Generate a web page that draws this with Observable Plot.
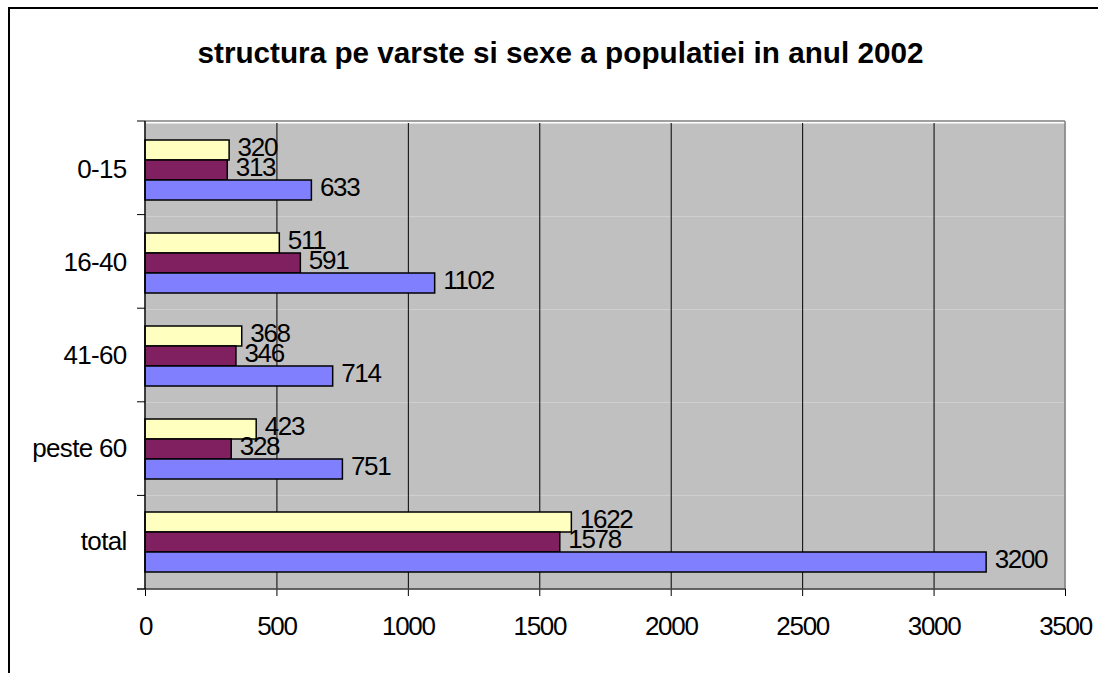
<!DOCTYPE html>
<html>
<head>
<meta charset="utf-8">
<script src="https://cdn.jsdelivr.net/npm/d3@7"></script>
<script src="https://cdn.jsdelivr.net/npm/@observablehq/plot@0.6"></script>
<style>
  html, body { margin: 0; padding: 0; background: #fff; overflow: hidden; }
  body { width: 1098px; height: 673px; position: relative; font-family: "Liberation Sans", Arial, sans-serif; }
  #border { position: absolute; left: 8px; top: 7px; width: 1200px; height: 800px; border: 2px solid #000; box-sizing: border-box; }
  #title { position: absolute; left: 0; top: 38px; width: 1121px; text-align: center; font-weight: bold; font-size: 29.7px; line-height: 30px; color: #000; white-space: nowrap; }
  #chart { position: absolute; left: 0; top: 0; }
</style>
</head>
<body>
<div id="border"></div>
<div id="title">structura pe varste si sexe a populatiei in anul 2002</div>
<div id="chart"></div>
<script>
// ---- data ----
const categories = ["0-15", "16-40", "41-60", "peste 60", "total"];
const seriesNames = ["femei", "barbati", "total"];
const femei   = [320, 511, 368, 423, 1622];
const barbati = [313, 591, 346, 328, 1578];
const total   = [633, 1102, 714, 751, 3200];
const xTicks  = [0, 500, 1000, 1500, 2000, 2500, 3000, 3500];
const seriesColors = ["#FFFFC0", "#802060", "#8080FF"];

const seriesValues = [femei, barbati, total];
const rows = [];
categories.forEach((c, i) => {
  seriesNames.forEach((s, j) => rows.push({category: c, series: s, value: seriesValues[j][i]}));
});

const chart = Plot.plot({
  width: 1098,
  height: 673,
  marginLeft: 145,
  marginRight: 33,
  marginTop: 121,
  marginBottom: 84,
  style: {fontFamily: "'Liberation Sans', Arial, sans-serif", fontSize: "26px", letterSpacing: "-1.3px", color: "#000", background: "transparent", overflow: "visible"},
  x: {domain: [0, 3500], ticks: xTicks, tickFormat: d => String(d), tickSize: 8, tickPadding: 20, label: null},
  fy: {domain: categories, padding: 0, axis: "left", tickSize: 0, tickPadding: 19, label: null},
  y: {domain: seriesNames, paddingInner: 0, paddingOuter: 0.75, axis: null},
  color: {domain: seriesNames, range: seriesColors},
  marks: [
    Plot.frame({fill: "#C0C0C0", stroke: null}),
    Plot.ruleX(xTicks.filter(t => t > 0 && t < 3500), {stroke: "#000", strokeWidth: 1}),
    Plot.barX(rows, {x: "value", y: "series", fy: "category", fill: "series", stroke: "#000", strokeWidth: 1.5}),
    Plot.text(rows, {x: "value", y: "series", fy: "category", text: d => String(d.value), textAnchor: "start", dx: 8, dy: -3, fill: "#000", fontSize: 26})
  ]
});
document.getElementById("chart").appendChild(chart);

// category labels slightly less condensed than the numbers
d3.select(chart).selectAll("g[aria-label='fy-axis tick label'] text, g[aria-label='fy-axis'] text").style("letter-spacing", "-0.7px");

// chart furniture (axis lines, category boundary ticks, plot-area border) from the scales
const xs = chart.scale("x");
const fys = chart.scale("fy");
const [xa, xb] = xs.range;
const ya = fys.range[0], yb = fys.range[1];
const n = fys.domain.length;
const svg = d3.select(chart);
const g = svg.append("g").attr("fill", "none");
d3.range(n + 1).forEach(i => {
  const y = ya + i * (yb - ya) / n;
  g.append("line").attr("x1", xa - 8).attr("x2", xa).attr("y1", y).attr("y2", y).attr("stroke", "#000");
});
g.append("line").attr("x1", xb).attr("x2", xb).attr("y1", ya).attr("y2", yb).attr("stroke", "#808080").attr("stroke-width", 1.5);
g.append("line").attr("x1", xa).attr("x2", xb).attr("y1", ya).attr("y2", ya).attr("stroke", "#808080").attr("stroke-width", 1.5);
g.append("line").attr("x1", xa - 8).attr("x2", xb).attr("y1", yb).attr("y2", yb).attr("stroke", "#333").attr("stroke-width", 1.5);
g.append("line").attr("x1", xa).attr("x2", xa).attr("y1", ya).attr("y2", yb).attr("stroke", "#000").attr("stroke-width", 1.5);
</script>
</body>
</html>
